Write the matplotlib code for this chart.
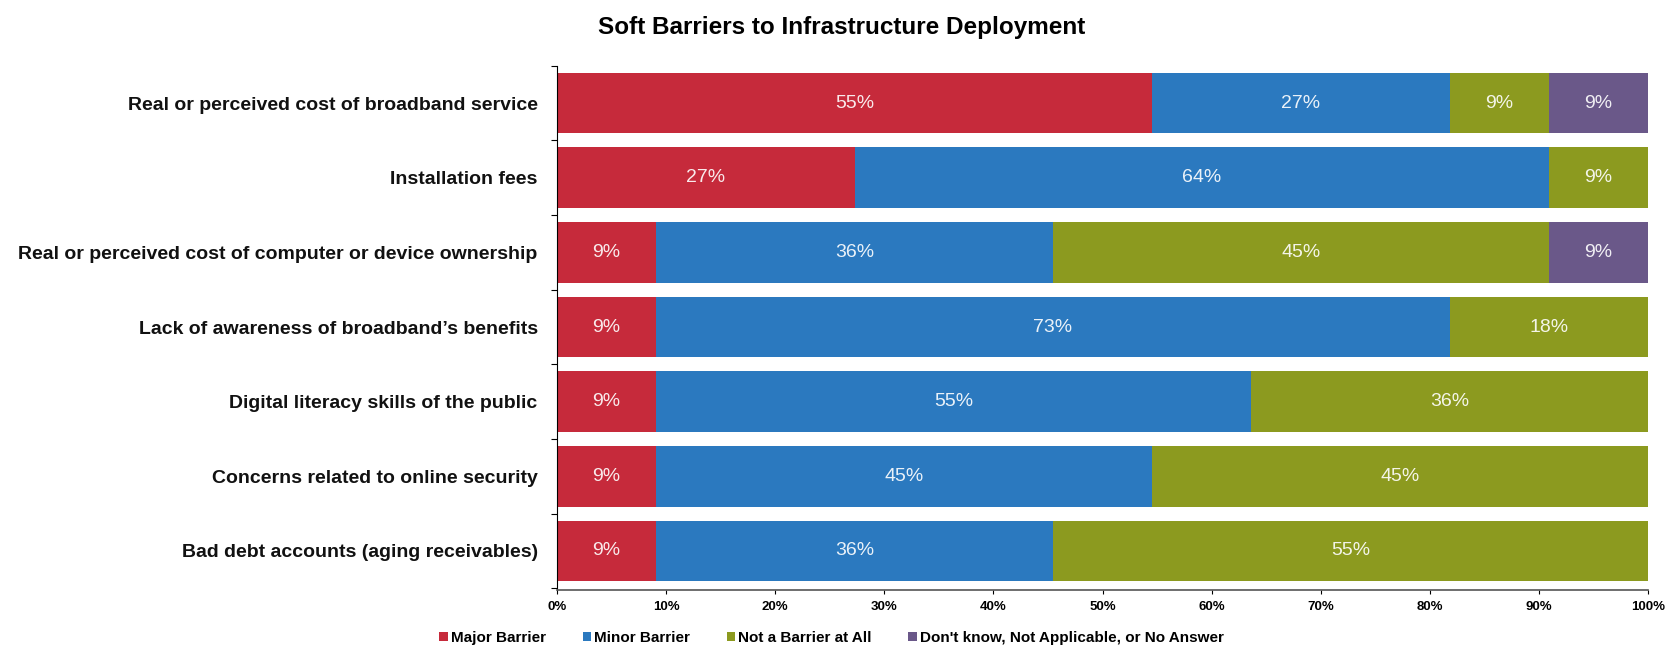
import matplotlib
matplotlib.use("Agg")
import matplotlib.pyplot as plt
from matplotlib.ticker import PercentFormatter

plt.rcParams['font.family'] = ['Liberation Sans', 'DejaVu Sans']

barriers = [
    "Real or perceived cost of broadband service",
    "Installation fees",
    "Real or perceived cost of computer or device ownership",
    "Lack of awareness of broadband\u2019s benefits",
    "Digital literacy skills of the public",
    "Concerns related to online security",
    "Bad debt accounts (aging receivables)",
]

# share of respondents (%), one value per barrier
major = [54.55, 27.27, 9.09, 9.09, 9.09, 9.09, 9.09]
minor = [27.27, 63.64, 36.36, 72.73, 54.55, 45.45, 36.36]
not_barrier = [9.09, 9.09, 45.45, 18.18, 36.36, 45.45, 54.55]
no_answer = [9.09, 0, 9.09, 0, 0, 0, 0]

series = [
    ("Major Barrier", major, "#c62a3b"),
    ("Minor Barrier", minor, "#2b79bf"),
    ("Not a Barrier at All", not_barrier, "#8c9a1f"),
    ("Don't know, Not Applicable, or No Answer", no_answer, "#6a5889"),
]

fig = plt.figure(figsize=(16.73, 6.51), dpi=100)
ax = fig.add_axes([0.333, 0.094, 0.652, 0.805])

ypos = list(range(len(barriers)))
left = [0.0] * len(barriers)
for name, vals, color in series:
    bars = ax.barh(ypos, vals, left=left, height=0.81, color=color, label=name)
    for b, v in zip(bars, vals):
        if v > 0:
            ax.text(b.get_x() + b.get_width() / 2, b.get_y() + b.get_height() / 2,
                    f"{v:.0f}%", ha="center", va="center", color="white",
                    fontsize=14, alpha=0.9)
    left = [l + v for l, v in zip(left, vals)]

ax.set_xlim(0, 100)
ax.set_ylim(6.52, -0.45)
ax.set_yticks(ypos)
ax.set_yticklabels(barriers, fontsize=14, fontweight="bold", color="#111111")
ax.tick_params(axis="y", length=0, pad=14)
# small marks between categories on the left spine
ax.set_yticks([i + 0.5 for i in range(-1, len(barriers))], minor=True)
ax.tick_params(axis="y", which="minor", length=4, width=0.8)

ax.xaxis.set_major_formatter(PercentFormatter(decimals=0))
ax.set_xticks(range(0, 101, 10))
for lab in ax.get_xticklabels():
    lab.set_family(['Liberation Sans Narrow', 'Liberation Sans'])
    lab.set_fontweight("bold")
    lab.set_fontsize(9.5)
ax.tick_params(axis="x", length=3, width=0.8, pad=5)

for side in ("top", "right"):
    ax.spines[side].set_visible(False)
ax.spines["left"].set_linewidth(0.8)
ax.spines["bottom"].set_linewidth(1.2)
ax.spines["bottom"].set_color("#555555")

fig.suptitle("Soft Barriers to Infrastructure Deployment", x=0.503, y=0.975,
             fontsize=17.5, fontweight="bold")

leg = fig.legend(loc="center", bbox_to_anchor=(0.497, 0.02), ncol=4, frameon=False,
                 handlelength=0.55, handleheight=0.55, handletextpad=0.2,
                 columnspacing=2.4,
                 prop={"size": 11, "weight": "bold"})

fig.savefig("out.png", dpi=100, facecolor="white")
